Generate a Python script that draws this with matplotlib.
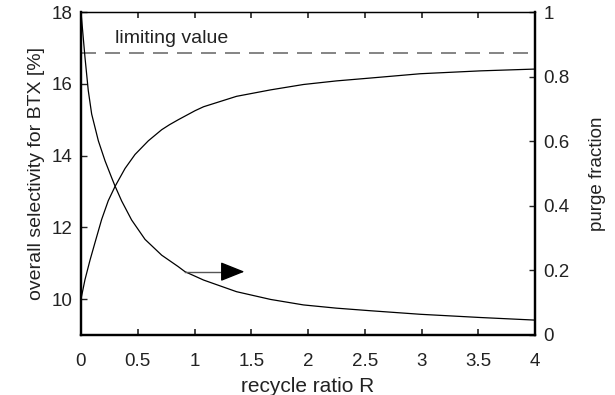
import matplotlib.pyplot as plt

plt.rcParams['font.family'] = ['Liberation Sans', 'DejaVu Sans']

# values
R_sel = [0.0, 0.035, 0.079, 0.123, 0.182, 0.24, 0.30, 0.388, 0.476, 0.593, 0.711, 0.78,
         0.858, 1.005, 1.08, 1.37, 1.67, 1.96, 2.25, 2.55, 2.99, 3.52, 4.0]
selectivity = [10.0, 10.54, 11.08, 11.57, 12.22, 12.74, 13.14, 13.64, 14.03, 14.41, 14.72,
               14.86, 15.0, 15.25, 15.36, 15.65, 15.83, 15.98, 16.08, 16.16, 16.28, 16.36,
               16.41]
R_purge = [0.0, 0.035, 0.064, 0.094, 0.153, 0.212, 0.27, 0.30, 0.358, 0.446, 0.564, 0.711,
           0.855, 0.916, 1.08, 1.37, 1.67, 1.96, 2.25, 2.55, 2.99, 3.52, 4.0]
purge = [1.0, 0.86, 0.757, 0.684, 0.601, 0.539, 0.487, 0.461, 0.415, 0.356, 0.296, 0.247,
         0.212, 0.196, 0.170, 0.134, 0.110, 0.093, 0.083, 0.075, 0.064, 0.054, 0.046]
limiting = 16.86
xticks = [0, 0.5, 1, 1.5, 2, 2.5, 3, 3.5, 4]
xticklabels = ['0', '0.5', '1', '1.5', '2', '2.5', '3', '3.5', '4']
yticks = [10, 12, 14, 16, 18]
y2ticks = [0, 0.2, 0.4, 0.6, 0.8, 1]
y2ticklabels = ['0', '0.2', '0.4', '0.6', '0.8', '1']

fig = plt.figure(figsize=(6.15, 3.95), dpi=100)
ax = fig.add_axes([0.1317, 0.152, 0.7383, 0.8176])
ax2 = ax.twinx()

ax.plot(R_sel, selectivity, color='black', lw=0.9)
ax.axhline(limiting, color='#707070', lw=1.2, linestyle=(0, (9, 5.4)))
ax.text(0.30, 17.13, 'limiting value', fontsize=14, va='baseline', ha='left', color='#222222')
ax2.plot(R_purge, purge, color='black', lw=0.9)

# arrow pointing to the right axis: grey shaft, black head
ax2.plot([0.916, 1.30], [0.196, 0.196], color='#555555', lw=1.0)
ax2.annotate('', xy=(1.44, 0.196), xytext=(1.25, 0.196),
             arrowprops=dict(arrowstyle='-|>,head_length=0.75,head_width=0.3',
                             mutation_scale=20, color='black', lw=1.0,
                             shrinkA=0, shrinkB=0))

ax.set_xlim(0, 4)
ax.set_ylim(9, 18)
ax2.set_ylim(0, 1)
ax.set_xticks(xticks)
ax.set_xticklabels(xticklabels)
ax.set_yticks(yticks)
ax2.set_yticks(y2ticks)
ax2.set_yticklabels(y2ticklabels)

ax.tick_params(axis='x', direction='in', top=True, length=4, width=1.2, labelsize=13.5,
               pad=13, colors='#222222')
ax.tick_params(axis='y', direction='in', length=4, width=1.0, labelsize=13.5, pad=6,
               colors='#222222')
ax2.tick_params(axis='y', direction='in', length=4, width=1.0, labelsize=13.5, pad=6,
                colors='#222222')

for a in (ax, ax2):
    a.spines['left'].set_linewidth(1.6)
    a.spines['bottom'].set_linewidth(1.6)
    a.spines['right'].set_linewidth(1.6)
    a.spines['top'].set_linewidth(0.9)

ax.set_xlabel('recycle ratio R', fontsize=15, labelpad=5, color='#222222')
ax.set_ylabel('overall selectivity for BTX [%]', fontsize=14, labelpad=5, color='#222222')
ax2.set_ylabel('purge fraction', fontsize=13.5, labelpad=14, color='#222222')

plt.savefig('out.png', dpi=100)
